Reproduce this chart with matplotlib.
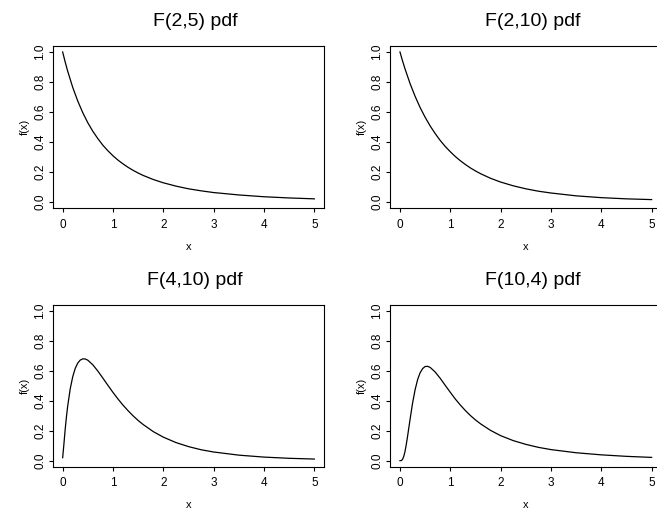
import matplotlib
matplotlib.use("Agg")
import matplotlib.pyplot as plt

plt.rcParams['font.family'] = ['Liberation Sans', 'DejaVu Sans']

# ---- data ----
titles = ["F(2,5) pdf", "F(2,10) pdf", "F(4,10) pdf", "F(10,4) pdf"]

x_decay = [0, 0.05, 0.1, 0.2, 0.3, 0.4, 0.5, 0.6, 0.7, 0.8, 0.9, 1.0, 1.1, 1.2,
           1.3, 1.4, 1.5, 1.6, 1.8, 2.0, 2.25, 2.5, 2.75, 3.0, 3.5, 4.0, 4.5, 5.0]
y_f2_5 = [1.0, 0.933, 0.872, 0.764, 0.673, 0.595, 0.528, 0.471, 0.422, 0.378,
          0.341, 0.308, 0.279, 0.254, 0.231, 0.211, 0.193, 0.177, 0.150, 0.128,
          0.106, 0.088, 0.0745, 0.063, 0.047, 0.035, 0.027, 0.021]
y_f2_10 = [1.0, 0.942, 0.888, 0.790, 0.705, 0.630, 0.565, 0.507, 0.456, 0.410,
           0.370, 0.335, 0.303, 0.275, 0.250, 0.227, 0.207, 0.189, 0.158, 0.133,
           0.108, 0.088, 0.072, 0.060, 0.041, 0.029, 0.021, 0.016]

x_f4_10 = [0, 0.025, 0.05, 0.075, 0.1, 0.15, 0.2, 0.25, 0.3, 0.35, 0.4, 0.45,
           0.5, 0.6, 0.7, 0.8, 0.9, 1.0, 1.1, 1.2, 1.3, 1.4, 1.5, 1.6, 1.8, 2.0,
           2.25, 2.5, 2.75, 3.0, 3.5, 4.0, 4.5, 5.0]
y_f4_10 = [0.02, 0.112, 0.209, 0.293, 0.365, 0.479, 0.560, 0.616, 0.651, 0.671,
           0.679, 0.678, 0.670, 0.639, 0.597, 0.550, 0.502, 0.455, 0.411, 0.370,
           0.333, 0.299, 0.268, 0.241, 0.194, 0.157, 0.121, 0.094, 0.073, 0.058,
           0.037, 0.024, 0.016, 0.011]

x_f10_4 = [0, 0.025, 0.05, 0.075, 0.1, 0.125, 0.15, 0.175, 0.2, 0.25, 0.3, 0.35,
           0.4, 0.45, 0.5, 0.55, 0.6, 0.7, 0.8, 0.9, 1.0, 1.1, 1.2, 1.3, 1.4,
           1.5, 1.6, 1.8, 2.0, 2.25, 2.5, 2.75, 3.0, 3.5, 4.0, 4.5, 5.0]
y_f10_4 = [0.0, 0.001, 0.008, 0.028, 0.061, 0.107, 0.160, 0.217, 0.274, 0.383,
           0.472, 0.540, 0.586, 0.614, 0.628, 0.629, 0.622, 0.591, 0.549, 0.502,
           0.456, 0.411, 0.371, 0.334, 0.301, 0.272, 0.246, 0.202, 0.167, 0.134,
           0.109, 0.089, 0.074, 0.053, 0.039, 0.029, 0.022]

series = [(x_decay, y_f2_5), (x_decay, y_f2_10), (x_f4_10, y_f4_10), (x_f10_4, y_f10_4)]

x_ticks = [0, 1, 2, 3, 4, 5]
y_ticks = [0.0, 0.2, 0.4, 0.6, 0.8, 1.0]
y_ticklabels = ["0.0", "0.2", "0.4", "0.6", "0.8", "1.0"]

# ---- layout (pixel-based) ----
W, H = 657, 509
fig = plt.figure(figsize=(W / 100, H / 100), dpi=100)

ax_w, ax_h = 271.8, 162.0
lefts = [52.6, 389.9]
tops = [46.0, 304.7]

positions = []
for t in tops:
    for l in lefts:
        positions.append([l / W, (H - t - ax_h) / H, ax_w / W, ax_h / H])

for pos, title, (xs, ys) in zip(positions, titles, series):
    ax = fig.add_axes(pos)
    ax.plot(xs, ys, color='black', lw=0.9)
    ax.set_xlim(-0.2, 5.2)
    ax.set_ylim(-0.04, 1.04)
    ax.set_xticks(x_ticks)
    ax.set_xticklabels([str(v) for v in x_ticks])
    ax.set_yticks(y_ticks)
    ax.set_yticklabels(y_ticklabels, rotation=90, va='center')
    ax.tick_params(axis='both', direction='out', length=3.2, width=0.8,
                   labelsize=8.5, colors='black')
    ax.tick_params(axis='x', pad=4.5)
    ax.tick_params(axis='y', pad=1.5)
    for sp in ax.spines.values():
        sp.set_linewidth(0.8)
    ax.set_xlabel("x", fontsize=8.0)
    ax.xaxis.set_label_coords(0.5, -(246.7 - 208.0) / ax_h)
    ax.xaxis.label.set_va('center')
    ax.set_ylabel("f(x)", fontsize=8.0)
    ax.yaxis.set_label_coords(-(52.6 - 25.0) / ax_w, 0.5)
    ax.yaxis.label.set_va('center')
    ax.text(0.524, 1 + 19.5 / ax_h, title, transform=ax.transAxes,
            ha='center', va='baseline', fontsize=14)

fig.savefig("out.png", dpi=100)
